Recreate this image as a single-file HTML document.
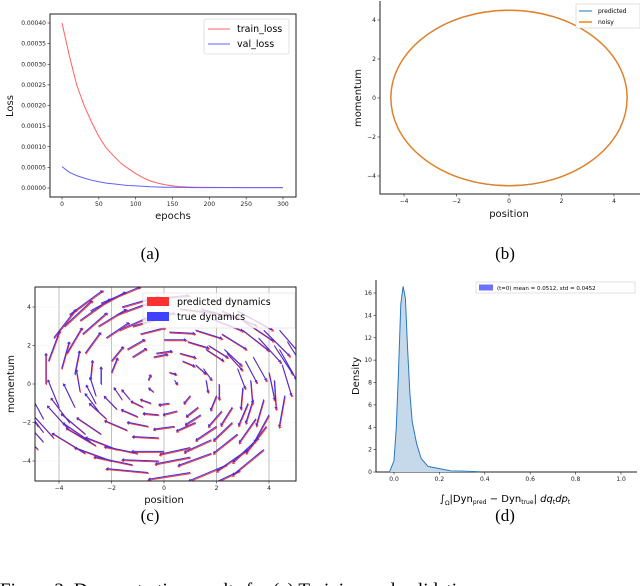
<!DOCTYPE html>
<html><head><meta charset="utf-8"><style>
body{margin:0;background:#fff;width:640px;height:586px;overflow:hidden}
svg{display:block}
text{font-family:"DejaVu Sans","Liberation Sans",sans-serif}
.cap{font-family:"Liberation Serif",serif;font-size:17px}
.tk{font-size:6px;fill:#222}
.lb{font-size:10px;fill:#111}
</style></head><body>
<svg id="s" width="640" height="586">
<text class="cap" x="150" y="259" text-anchor="middle">(a)</text>
<text class="cap" x="505" y="259" text-anchor="middle">(b)</text>
<text class="cap" x="150" y="521" text-anchor="middle">(c)</text>
<text class="cap" x="505" y="521" text-anchor="middle">(d)</text>
<text class="cap" x="0" y="596" style="font-size:19px">Figure 3: Demonstration results for (a) Training and validation</text>
</svg>
<script>
const epochs=[0,10,20,30,40,50,60,70,80,90,100,110,120,130,140,150,160,170,180,200,220,250,300];
const trainLoss=[4.0,3.2,2.5,2.0,1.6,1.25,0.97,0.78,0.6,0.47,0.35,0.25,0.17,0.12,0.08,0.05,0.035,0.025,0.02,0.015,0.012,0.01,0.01];
const valLoss=[0.52,0.38,0.3,0.24,0.19,0.15,0.12,0.1,0.08,0.06,0.05,0.04,0.03,0.025,0.02,0.018,0.015,0.012,0.01,0.01,0.01,0.01,0.01];
const lossTicksY=[0,0.5,1,1.5,2,2.5,3,3.5,4];
const lossTickLabels=["0.00000","0.00005","0.00010","0.00015","0.00020","0.00025","0.00030","0.00035","0.00040"];
const epochTicks=[0,50,100,150,200,250,300];
const orbitQ=[4.5,4.16,3.18,1.72,0,-1.72,-3.18,-4.16,-4.5,-4.16,-3.18,-1.72,0,1.72,3.18,4.16];
const orbitP=[0,1.72,3.18,4.16,4.5,4.16,3.18,1.72,0,-1.72,-3.18,-4.16,-4.5,-4.16,-3.18,-1.72];
const phaseTicks=[-4,-2,0,2,4];
const quiverQ=[-4.6,-4.6,-4.2,-3.6,-3.0,-2.6,-1.8,-1,0,1,1.8,2.4,3.2,3.6,3.5,3.8,4.2,4.5,4.2,3.6,3,2.2,1.2,0.2,-0.8,-1.8,-2.8,-3.6,-4.2,-4.4,-4.5,-4.0,-3.4,-3.0,-2.6,-2.2,-1.4,-0.6,0.4,1.2,2.0,2.8,2.6,3.0,2.8,2.4,1.6,0.6,-0.4,-1.4,-2.2,-2.0,-1.6,-0.8,0.2,1.0,1.6,1.2,0.2,-0.6,-0.4,0.4,3.4,4.0,-3.0,-1.2,1.8,2.8,4.4,-4.6,3.8,-0.2,-2.4,-3.4,
-3.8,-3.2,-2.4,-1.6,-0.6,0.6,1.4,2.2,3.0,3.8,4.4,4.0,3.2,2.6,1.8,1.0,-0.2,-1.2,-2.0,-2.8,-3.6,-3.9,-3.7,-3.1,-2.5,-1.7,-0.9,0,0.9,1.7,2.3,3.1,3.3,3.4,2.2,1.4,-0.2,-1.0,-1.8,-2.6,-3.2,-2.8,-2.0,-1.2,-0.3,0.7,1.5,2.1,2.0,1.3,0.5,-0.5,-1.3,-2.4,-2.5,4.7,4.6,-4.8,-4.8,1.0,2.9,-0.6,3.9];
const quiverP=[-1.8,-2.5,-2.8,-2.4,-2.6,-3.2,-3.4,-3.6,-3.5,-3.3,-3.6,-4.2,-3.4,-2.8,-1.8,-0.8,0.2,1,2,2.4,2.8,2.6,2.8,2.7,3.4,3.6,3.8,3.6,2.4,1.2,0,-1.2,0.5,1.6,-0.6,-1.8,-2.4,-2.2,-2.2,-2.0,-2.2,-2.6,-1.2,-0.2,0.8,1.6,1.8,1.6,1.4,1.8,2.4,0.6,-0.8,-1.2,-1.0,-0.6,0.2,1.0,0.6,0.2,-0.4,0.2,1.4,-1.6,-3.6,3.0,3.4,3.8,2.8,-3.0,-3.4,-2.8,-2.6,-1.2,
3.0,3.3,4.2,4.0,4.4,3.9,3.9,3.8,3.3,2.8,1.8,0.6,-1.0,-2.0,-2.9,-3.8,-4.0,-4.2,-4.0,-3.0,-2.0,0.8,1.6,2.6,3.0,2.8,2.6,2.3,2.2,2.0,1.8,1.2,0.2,-0.8,-1.4,-1.6,-1.6,-1.7,-1.3,-1.0,-0.4,0.2,1.2,1.4,1.6,1.2,0.8,0.0,-0.6,-1.2,-1.4,-1.0,-0.8,0.0,-1.4,2.2,-0.6,-2.2,-3.4,-4.6,-4.5,-4.6,-2.2];
const kdeX=[-0.02,0,0.01,0.02,0.03,0.04,0.05,0.06,0.07,0.08,0.1,0.12,0.15,0.2,0.25,0.3,0.38];
const kdeY=[0,1,4,9,15,16.6,15.5,11,7,4.5,2.5,1.2,0.5,0.3,0.1,0.08,0.02];
const densTicks=[0,2,4,6,8,10,12,14,16];
const errTicks=[0,0.2,0.4,0.6,0.8,1.0];
const errTickLabels=["0.0","0.2","0.4","0.6","0.8","1.0"];

const S=document.getElementById('s');const NS='http://www.w3.org/2000/svg';
function mk(t,a,txt){const e=document.createElementNS(NS,t);for(const k in a)e.setAttribute(k,a[k]);if(txt!==undefined)e.textContent=txt;S.appendChild(e);return e;}
function lin(d0,d1,r0,r1){return v=>r0+(v-d0)/(d1-d0)*(r1-r0);}
function axesBox(x0,y0,x1,y1,name){let e=mk('rect',{x:x0,y:y0,width:x1-x0,height:y1-y0,fill:'none',stroke:'#222','stroke-width':1});}
function xt(x,y,lab,name){let e=mk('line',{x1:x,x2:x,y1:y,y2:y+2.5,stroke:'#222','stroke-width':0.6});
let t=mk('text',{x:x,y:y+9,'text-anchor':'middle',class:'tk'},lab);}
function yt(x,y,lab,name){let e=mk('line',{x1:x-2.5,x2:x,y1:y,y2:y,stroke:'#222','stroke-width':0.6});
let t=mk('text',{x:x-4,y:y+2,'text-anchor':'end',class:'tk'},lab);}
function lab(x,y,txt,rot,name){let a={x:x,y:y,'text-anchor':'middle',class:'lb'};if(rot)a.transform=`rotate(-90 ${x} ${y})`;let t=mk('text',a,txt);return t;}
function path(pts){return pts.map((p,i)=>(i?'L':'M')+p[0].toFixed(1)+' '+p[1].toFixed(1)).join(' ');}

// Panel a
{const X=lin(0,300,62,283),Y=lin(0,4,188,23);
axesBox(50,14,296,197,'loss-axes');
epochTicks.forEach(v=>xt(X(v),197,String(v),'epoch'));
lossTicksY.forEach((v,i)=>yt(50,Y(v),lossTickLabels[i],'loss'));
lab(173,219,'epochs',false,'x-axis-title-epochs');lab(13,106,'Loss',true,'y-axis-title-loss');
let p1=mk('path',{d:path(epochs.map((e,i)=>[X(e),Y(trainLoss[i])])),fill:'none',stroke:'#ff6060','stroke-width':1});
let p2=mk('path',{d:path(epochs.map((e,i)=>[X(e),Y(valLoss[i])])),fill:'none',stroke:'#6060ff','stroke-width':1});
let lg=mk('rect',{x:204,y:19,width:85,height:35,fill:'#fff',stroke:'#ccc','stroke-width':0.6,rx:2});
mk('line',{x1:208,x2:230,y1:29,y2:29,stroke:'#ff8080','stroke-width':1.2});mk('line',{x1:208,x2:230,y1:44,y2:44,stroke:'#6060ff','stroke-width':1});
let t1=mk('text',{x:237,y:32,style:'font-size:9.5px'},'train_loss');
let t2=mk('text',{x:237,y:47,style:'font-size:9.5px'},'val_loss');}

// Panel b
{const X=lin(0,4,509,614),Y=lin(0,4,98,20);
let ax=mk('path',{d:'M380 1 L380 194 L640 194',fill:'none',stroke:'#222','stroke-width':1});
phaseTicks.forEach(v=>{xt(X(v),194,String(v).replace('-','−'),'position');yt(380,Y(v),String(v).replace('-','−'),'momentum');});
lab(509,217,'position',false,'x-axis-title-position');lab(361,98,'momentum',true,'y-axis-title-momentum');
const n=orbitQ.length,P=orbitQ.map((q,i)=>[X(q),Y(orbitP[i])]);
let d='M'+P[0][0]+' '+P[0][1];
for(let i=0;i<n;i++){const p0=P[(i-1+n)%n],p1=P[i],p2=P[(i+1)%n],p3=P[(i+2)%n];
d+=` C${p1[0]+(p2[0]-p0[0])/6} ${p1[1]+(p2[1]-p0[1])/6} ${p2[0]-(p3[0]-p1[0])/6} ${p2[1]-(p3[1]-p1[1])/6} ${p2[0]} ${p2[1]}`;}
let e1=mk('path',{d:d,fill:'none',stroke:'#1f77b4','stroke-width':1.2});
let e2=mk('path',{d:d,fill:'none',stroke:'#ff7f0e','stroke-width':1.4,opacity:0.9});
let lg=mk('rect',{x:576,y:4,width:64,height:24,fill:'#fff',stroke:'#ccc','stroke-width':0.6});
mk('line',{x1:579,x2:592,y1:11,y2:11,stroke:'#1f77b4','stroke-width':1});mk('line',{x1:579,x2:592,y1:22,y2:22,stroke:'#ff7f0e','stroke-width':1.5});
let a=mk('text',{x:598,y:13,style:'font-size:6px'},'predicted');
let b=mk('text',{x:598,y:24,style:'font-size:6px'},'noisy');}

// Panel c
{const X=lin(0,4,164,269),Y=lin(0,4,384,307);
const cp=mk('clipPath',{id:'cc'});const r=document.createElementNS(NS,'rect');r.setAttribute('x',35);r.setAttribute('y',287);r.setAttribute('width',261);r.setAttribute('height',194);cp.appendChild(r);
mk('rect',{x:35,y:287,width:261,height:194,fill:'#fff'});
phaseTicks.forEach(v=>{let g=mk('line',{x1:X(v),x2:X(v),y1:287,y2:481,stroke:'#b0b0b0','stroke-width':0.8});
let h=mk('line',{x1:35,x2:296,y1:Y(v),y2:Y(v),stroke:'#f0f0f0','stroke-width':0.6});});
const g=mk('g',{'clip-path':'url(#cc)'});
function arrow(x,y,dx,dy,col,name){const x2=X(x+dx),y2=Y(y+dy),x1=X(x),y1=Y(y);const L=Math.hypot(x2-x1,y2-y1)||1,ux=(x2-x1)/L,uy=(y2-y1)/L;
const l=document.createElementNS(NS,'line');l.setAttribute('x1',x1);l.setAttribute('y1',y1);l.setAttribute('x2',x2);l.setAttribute('y2',y2);l.setAttribute('stroke',col);l.setAttribute('stroke-width',1);

g.appendChild(l);
const h=document.createElementNS(NS,'polygon');h.setAttribute('points',`${x2+ux*2.5},${y2+uy*2.5} ${x2-uy*1.7},${y2+ux*1.7} ${x2+uy*1.7},${y2-ux*1.7}`);h.setAttribute('fill',col);g.appendChild(h);}
S.appendChild(g);
quiverQ.forEach((q,i)=>{const p=quiverP[i];arrow(q+0.02,p-0.05,p*0.34,-q*0.34,'#ff3030','predicted-arrow');});
quiverQ.forEach((q,i)=>{const p=quiverP[i];arrow(q,p,p*0.33,-q*0.33,'#4030e0','true-arrow');});
axesBox(35,287,296,481,'dynamics-axes');
phaseTicks.forEach(v=>{xt(X(v),481,String(v).replace('-','−'),'position');yt(35,Y(v),String(v).replace('-','−'),'momentum');});
lab(164,503,'position',false,'x-axis-title-position');lab(14,384,'momentum',true,'y-axis-title-momentum');
let lg=mk('rect',{x:143,y:293,width:152,height:35,fill:'#fff','fill-opacity':0.8,stroke:'#ddd','stroke-width':0.6});
mk('rect',{x:147,y:297,width:22,height:9,fill:'#ff3030'});mk('rect',{x:147,y:312,width:22,height:9,fill:'#4040ff'});
let a=mk('text',{x:177,y:305,style:'font-size:9.5px'},'predicted dynamics');
let b=mk('text',{x:177,y:320,style:'font-size:9.5px'},'true dynamics');}

// Panel d
{const X=lin(0,1,394,621),Y=lin(0,16,472,293);
let ax=mk('path',{d:'M376 280 L376 472 L637 472',fill:'none',stroke:'#222','stroke-width':1});
errTicks.forEach((v,i)=>xt(X(v),472,errTickLabels[i],'error'));densTicks.forEach(v=>yt(376,Y(v),String(v),'density'));
const pts=kdeX.map((x,i)=>[X(x),Y(kdeY[i])]);
let f=mk('path',{d:path(pts)+` L${X(kdeX[kdeX.length-1])} ${Y(0)} L${X(kdeX[0])} ${Y(0)} Z`,fill:'#c5d9ea'});
let l=mk('path',{d:path(pts),fill:'none',stroke:'#2878c0','stroke-width':1});
lab(359,376,'Density',true,'y-axis-title-density');
let t=mk('text',{x:505,y:502,'text-anchor':'middle',style:'font-size:10px'});
t.innerHTML='∫<tspan font-size="6" dy="3">Ω</tspan><tspan dy="-3">|Dyn</tspan><tspan font-size="6" dy="2">pred</tspan><tspan dy="-2"> − Dyn</tspan><tspan font-size="6" dy="2">true</tspan><tspan dy="-2">| </tspan><tspan font-style="italic">dq</tspan><tspan font-size="6" dy="2">t</tspan><tspan dy="-2" font-style="italic">dp</tspan><tspan font-size="6" dy="2">t</tspan>';
let lg=mk('rect',{x:476,y:282,width:159,height:11,fill:'#fff',stroke:'#ccc','stroke-width':0.6});
mk('rect',{x:479,y:284.5,width:14,height:6,fill:'#7070ff'});
let a=mk('text',{x:497,y:290,style:'font-size:5.5px'},'(t=0) mean = 0.0512, std = 0.0452');}
</script>
</body></html>
